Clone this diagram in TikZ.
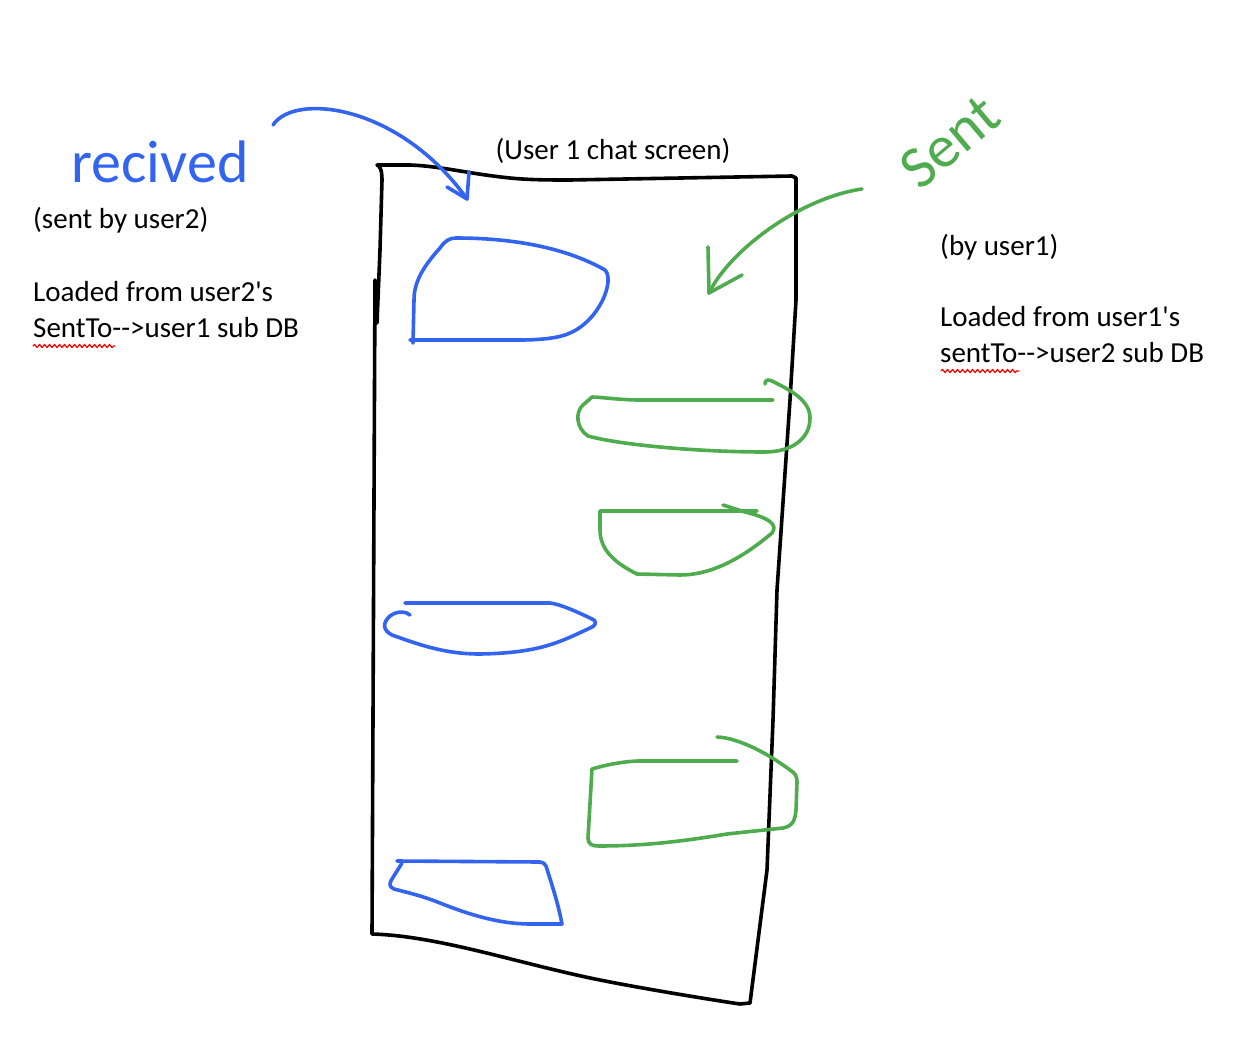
\documentclass[tikz,border=0pt]{standalone}
\usepackage{fontspec}
\setmainfont{Carlito}[Ligatures=TeXOff]
\usetikzlibrary{decorations.pathmorphing}
\definecolor{penblue}{RGB}{50,100,240}
\definecolor{pengreen}{RGB}{78,172,78}
\begin{document}
\begin{tikzpicture}[x=1pt,y=-1pt,line cap=round,line join=round,
	pen/.style={line width=3.6pt},
	note/.style={inner sep=0pt,anchor=base west,font=\fontsize{29}{36}\selectfont},
	hand/.style={inner sep=0pt,font=\fontsize{60}{60}\selectfont},
	squiggle/.style={red,line width=1.2pt,decorate,decoration={snake,amplitude=1.6pt,segment length=5pt}}]
	\useasboundingbox (0,0) rectangle (1244,1054);
	% chat screen
	\draw[pen] (377,323) -- (380,250) -- (382,180) .. controls (382,170) and (380,166) .. (377,165) -- (410,165)
		.. controls (440,166) and (470,174) .. (510,178) .. controls (530,180) and (550,180) .. (570,180) -- (792,176) -- (796,178)
		-- (796,300) -- (790,400) -- (777,590) -- (773,720) -- (767,870) -- (750,1003) -- (740,1004)
		.. controls (700,998) and (640,988) .. (600,980) .. controls (520,964) and (440,936) .. (372,934) -- (375,280);
	\node[note,anchor=base] (title) at (613,159) {(User 1 chat screen)};
	% received side
	\node[hand,text=penblue] (rcv) at (160,162) {recived};
	\node[note] (rcvby) at (33,228) {(sent by user2)};
	\node[note] (rcvsrc1) at (33,301) {Loaded from user2's};
	\node[note] (rcvsrc2) at (33,337) {SentTo-->user1 sub DB};
	\draw[squiggle] (33,346) -- (115,346);
	\coordinate (rcvtail) at (273,125);
	\coordinate (rcvtip) at (467,199);
	\draw[pen,penblue] (rcvtail) .. controls (295,92) and (400,105) .. (rcvtip);
	\draw[pen,penblue] (447,187) -- (rcvtip) -- (469,172);
	\draw[pen,penblue] (413,343) -- (414,300) .. controls (414,285) and (420,270) .. (440,248) .. controls (445,241) and (449,238) .. (456,238)
		.. controls (520,238) and (570,250) .. (605,270) .. controls (615,280) and (600,320) .. (570,333)
		.. controls (560,338) and (540,340) .. (520,340) -- (410,340);
	\draw[pen,penblue] (405,603) -- (550,603) .. controls (560,604) and (580,613) .. (594,620) .. controls (597,623) and (595,626) .. (590,628)
		.. controls (560,642) and (540,653) .. (480,654) .. controls (445,654) and (420,645) .. (392,635)
		.. controls (382,630) and (383,622) .. (390,616) .. controls (398,610) and (407,612) .. (410,615);
	\draw[pen,penblue] (397,861) -- (540,862) .. controls (543,862) and (545,864) .. (546,866) .. controls (552,885) and (558,903) .. (562,924)
		-- (530,924) .. controls (500,924) and (470,915) .. (440,903) .. controls (420,895) and (405,892) .. (394,889)
		.. controls (389,887) and (389,883) .. (392,879) -- (402,863);
	% sent side
	\node[hand,text=pengreen,rotate=40] (snt) at (950,142) {Sent};
	\node[note] (sntby) at (940,255) {(by user1)};
	\node[note] (sntsrc1) at (940,326) {Loaded from user1's};
	\node[note] (sntsrc2) at (940,362) {sentTo-->user2 sub DB};
	\draw[squiggle] (941,371) -- (1019,371);
	\coordinate (snttail) at (862,189);
	\coordinate (snttip) at (709,293);
	\draw[pen,pengreen] (snttail) .. controls (800,198) and (730,250) .. (snttip);
	\draw[pen,pengreen] (708,247) -- (snttip) -- (742,275);
	\draw[pen,pengreen] (773,400) -- (640,400) .. controls (620,400) and (600,397) .. (592,397) -- (583,405)
		.. controls (575,412) and (576,428) .. (588,436) .. controls (620,445) and (700,452) .. (765,452)
		.. controls (790,452) and (810,440) .. (810,418) .. controls (810,400) and (790,390) .. (772,381)
		.. controls (768,379) and (765,380) .. (765,384);
	\draw[pen,pengreen] (757,511) -- (600,511) -- (600,530) .. controls (600,550) and (615,563) .. (637,574) -- (680,575)
		.. controls (710,575) and (740,560) .. (772,533) .. controls (778,525) and (770,518) .. (745,512) -- (723,505);
	\draw[pen,pengreen] (737,761) -- (640,761) .. controls (625,761) and (605,765) .. (592,769) -- (588,838)
		.. controls (588,844) and (592,846) .. (598,846) .. controls (650,846) and (690,840) .. (727,834) -- (783,828)
		.. controls (793,826) and (795,820) .. (796,810) -- (797,782) .. controls (797,776) and (795,773) .. (790,770)
		.. controls (770,755) and (740,738) .. (717,737);
\end{tikzpicture}
\end{document}
